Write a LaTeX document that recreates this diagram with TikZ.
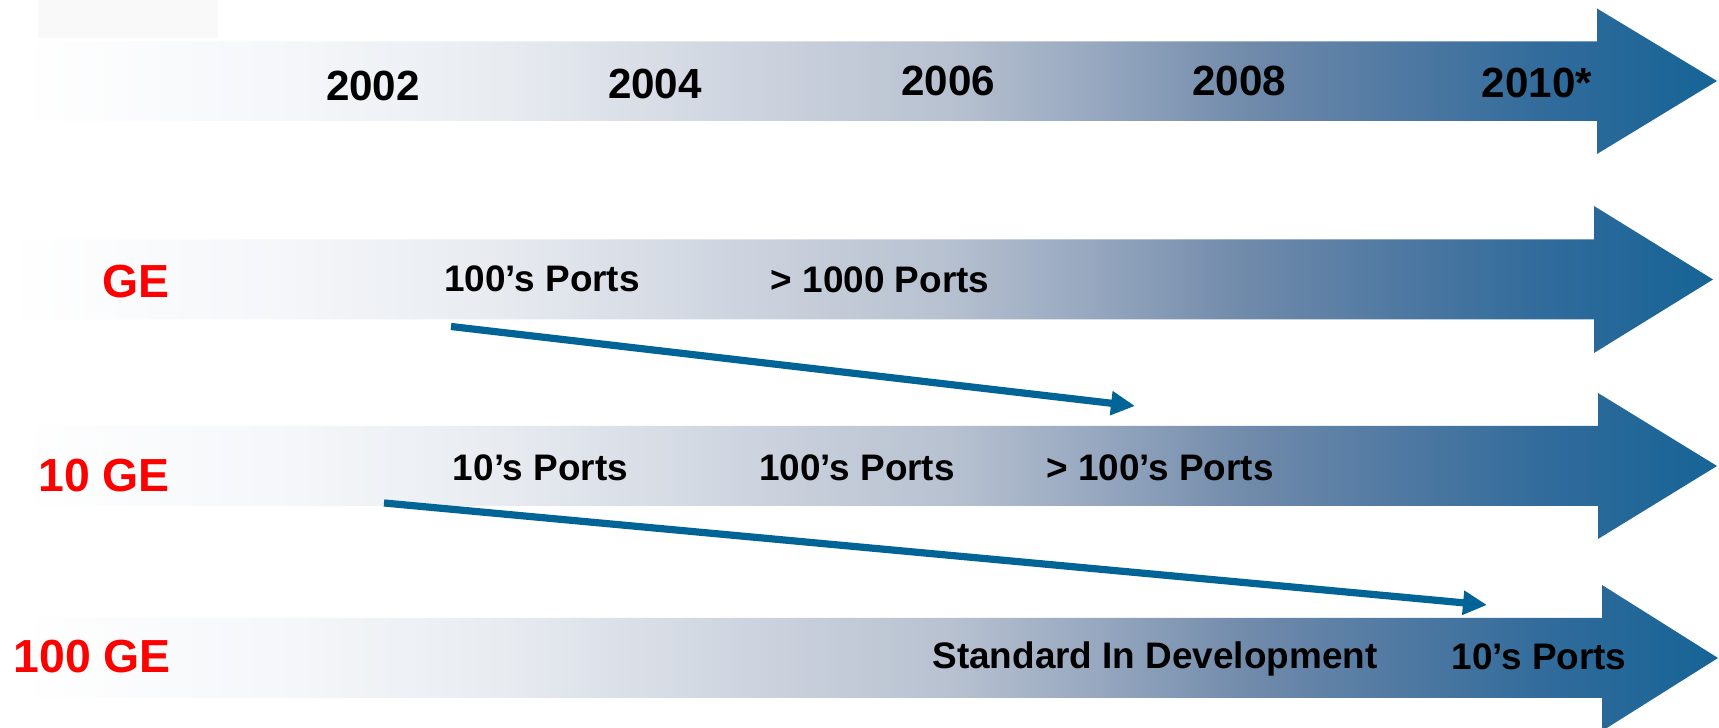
\documentclass[tikz,border=0pt]{standalone}
\usepackage{fontspec}
\setmainfont{Liberation Sans}
\usetikzlibrary{arrows.meta}
\definecolor{sA}{RGB}{255,255,255}
\definecolor{sB}{RGB}{244,246,249}
\definecolor{sC}{RGB}{232,236,241}
\definecolor{sD}{RGB}{216,221,230}
\definecolor{sE}{RGB}{200,207,219}
\definecolor{sF}{RGB}{183,193,208}
\definecolor{sG}{RGB}{150,167,191}
\definecolor{sH}{RGB}{112,138,170}
\definecolor{sI}{RGB}{80,121,162}
\definecolor{sJ}{RGB}{48,107,155}
\definecolor{sK}{RGB}{22,100,150}
\definecolor{cblue}{RGB}{0,100,150}
\definecolor{labred}{RGB}{255,0,0}
\definecolor{ghost}{RGB}{249,249,249}
\pgfdeclarehorizontalshading{bandshade}{100bp}{color(0bp)=(sA); color(25bp)=(sA); color(33.3bp)=(sB); color(39.18bp)=(sC); color(43.6bp)=(sD); color(48.01bp)=(sE); color(52.43bp)=(sF); color(56.84bp)=(sG); color(61.26bp)=(sH); color(65.67bp)=(sI); color(70.09bp)=(sJ); color(75bp)=(sK); color(100bp)=(sK)}
\tikzset{
  band/.style={shading=bandshade, shading angle=0},
  yr/.style={font=\bfseries\fontsize{12}{14}\selectfont, inner sep=0pt, anchor=base, text=black},
  port/.style={font=\bfseries\fontsize{10.5}{12.5}\selectfont, inner sep=0pt, anchor=base, text=black},
  speed/.style={font=\bfseries\fontsize{13.2}{15.5}\selectfont, inner sep=0pt, anchor=base east, text=labred},
  conn/.style={draw=cblue, line width=0.72mm, -{Triangle[length=2.4mm,width=2.3mm]}}
}
\begin{document}
\begin{tikzpicture}[x=0.1mm,y=-0.1mm]
\useasboundingbox (0,0) rectangle (1719,728);
\fill[white] (0,0) rectangle (1719,728);
\begin{scope}
\clip (0,0) rectangle (1719,728);
\fill[ghost] (38,0) rectangle (218,38);
% year band
\shade[band] (18,41.5) -- (1597,41.5) -- (1597,8.5) -- (1717,81) -- (1597,154) -- (1597,121) -- (18,121) -- cycle;
% GE band
\shade[band] (5,239.5) -- (1594,239.5) -- (1594,206) -- (1713,279.5) -- (1594,353) -- (1594,319.5) -- (5,319.5) -- cycle;
% 10 GE band
\shade[band] (18,426) -- (1598,426) -- (1598,393) -- (1717,466) -- (1598,539) -- (1598,506) -- (18,506) -- cycle;
% 100 GE band
\shade[band] (18,618) -- (1602,618) -- (1602,585) -- (1718,658) -- (1602,731) -- (1602,698) -- (18,698) -- cycle;
\end{scope}
% years
\node[yr] (y2002) at (373,101) {2002};
\node[yr] (y2004) at (655,99) {2004};
\node[yr] (y2006) at (948,95.5) {2006};
\node[yr] (y2008) at (1239,95.5) {2008};
\node[yr] (y2010) at (1537,97.5) {2010*};
% speeds
\node[speed] (ge) at (170.5,297.5) {GE};
\node[speed] (tge) at (170.5,491.5) {10 GE};
\node[speed] (hge) at (171.5,673) {100 GE};
% GE row
\node[port] (ge1) at (542,291.5) {100’s Ports};
\node[port] (ge2) at (880,293) {> 1000 Ports};
% 10 GE row
\node[port] (tg1) at (540.5,480.5) {10’s Ports};
\node[port] (tg2) at (857,480.5) {100’s Ports};
\node[port] (tg3) at (1160,480.5) {> 100’s Ports};
% 100 GE row
\node[port] (hg1) at (1155,669) {Standard In Development};
\node[port] (hg2) at (1539,669.5) {10’s Ports};
% connectors
\coordinate (aS) at (451,326.5);
\coordinate (aE) at (1135,406);
\coordinate (bS) at (384,503);
\coordinate (bE) at (1487,605);
\draw[conn] (aS) -- (aE);
\draw[conn] (bS) -- (bE);
\end{tikzpicture}
\end{document}
